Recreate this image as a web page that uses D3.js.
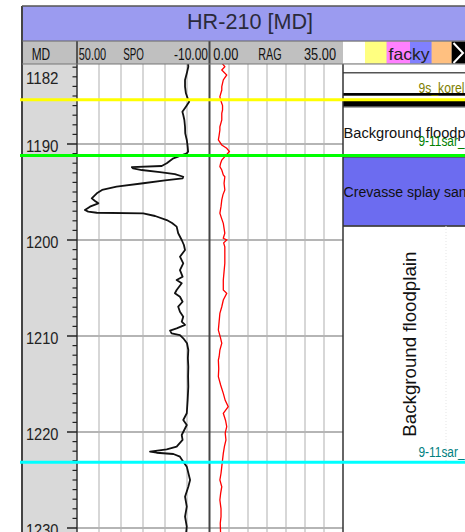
<!DOCTYPE html>
<html>
<head>
<meta charset="utf-8">
<script src="https://cdn.jsdelivr.net/npm/d3@7"></script>
<style>
  html, body { margin: 0; padding: 0; background: #fff; }
  svg { display: block; font-family: "Liberation Sans", Arial, sans-serif; }
</style>
</head>
<body>
<svg id="chart" width="465" height="532"></svg>
<script>
// ---- well log data (depth in m MD) ----
const wellName = "HR-210 [MD]";

const spoDepth = [1181.6, 1181.95, 1182.64, 1183.33, 1184.03, 1184.72, 1185.24, 1185.59, 1186.11, 1186.64,
  1186.98, 1187.5, 1188.2, 1188.89, 1189.58, 1190.28, 1190.8, 1190.97, 1191.49, 1191.74,
  1192.01, 1192.29, 1192.40, 1192.55, 1192.71, 1192.92, 1193.13, 1193.41, 1193.57, 1193.80,
  1194.09, 1194.45, 1194.79, 1195.14, 1195.66, 1195.94, 1196.18, 1196.53, 1196.88, 1197.05,
  1197.16, 1197.22, 1197.5, 1197.92, 1198.23, 1198.61, 1199.3, 1200.0, 1200.52, 1201.04,
  1201.74, 1202.43, 1203.13, 1203.82, 1204.17, 1204.51, 1205.21, 1205.55, 1205.91, 1206.43,
  1206.95, 1207.47, 1207.99, 1208.51, 1208.85, 1209.20, 1209.43, 1209.72, 1209.9, 1210.24,
  1210.76, 1211.46, 1212.3, 1213.2, 1214.2, 1215.28, 1216.67, 1218.05, 1218.75, 1219.27,
  1220.31, 1220.83, 1221.53, 1221.80, 1222.05, 1222.16, 1222.29, 1222.57, 1223.09, 1223.61,
  1225.0, 1225.7, 1226.74, 1227.78, 1228.82, 1229.86, 1230.73];
const spoValue = [-0.5, -0.6, 0.1, 0.9, 0.9, 0.5, -0.3, -1.0, 0.5, 2.1,
  1.7, 1.2, 0.9, 0.8, 0.1, -0.3, -0.5, 0.1, 6.2, 7.7,
  9.2, 11.5, 25.1, 24.5, 20.6, 12.3, 5.5, 1.7, 2.0, 10.0,
  19.9, 32.0, 38.6, 41.0, 43.3, 41.8, 40.3, 44.1, 46.4, 44.9,
  41.0, 19.9, 14.5, 9.2, 6.8, 4.7, 4.0, 2.4, 1.4, 0.9,
  3.2, 1.7, 3.2, 2.0, 4.7, 2.4, 4.7, 5.5, 3.2, 2.0,
  4.0, 3.2, 1.7, 2.4, 0.9, 4.7, 7.7, 7.0, 3.2, 1.7,
  0.0, -0.6, -0.4, -0.6, -0.5, -0.6, -0.3, 0.1, 1.7, 0.1,
  2.4, 2.0, 4.7, 9.2, 16.8, 13.8, 6.2, 3.2, 1.7, 0.1,
  -1.4, -0.6, 0.9, 0.1, 0.9, 0.1, 0.5];

const ragDepth = [1181.6, 1181.95, 1182.29, 1182.81, 1183.33, 1184.03, 1184.38, 1185.07, 1185.42, 1186.0,
  1186.46, 1186.80, 1187.5, 1188.2, 1188.54, 1189.1, 1189.58, 1190.1, 1190.45, 1190.78,
  1191.32, 1191.67, 1192.0, 1192.36, 1192.71, 1193.23, 1193.41, 1194.1, 1194.79, 1195.3,
  1195.83, 1196.5, 1197.22, 1197.7, 1198.26, 1199.3, 1199.82, 1200.0, 1200.3, 1200.7,
  1201.74, 1202.43, 1203.3, 1204.17, 1205.21, 1205.55, 1206.25, 1206.95, 1207.64, 1208.5,
  1209.38, 1210.1, 1210.76, 1211.46, 1212.16, 1212.5, 1213.4, 1214.24, 1215.1, 1215.97,
  1216.7, 1217.36, 1218.05, 1218.8, 1219.45, 1220.1, 1220.83, 1221.5, 1222.22, 1223.61,
  1224.3, 1225, 1225.7, 1226.4, 1227.08, 1228.0, 1228.82, 1229.5, 1230.73];
const ragValue = [3.2, 3.9, 3.1, 4.4, 3.5, 3.1, 3.1, 2.6, 2.8, 3.3,
  3.3, 3.1, 3.1, 2.6, 2.6, 2.4, 2.2, 3.1, 4.4, 5.1,
  3.9, 3.1, 2.8, 2.6, 3.1, 3.5, 3.9, 3.7, 3.9, 3.4,
  3.1, 2.9, 2.6, 3.0, 3.5, 3.9, 3.5, 4.4, 3.6, 3.9,
  3.9, 3.9, 3.7, 3.5, 3.5, 4.4, 3.5, 3.1, 2.6, 2.4,
  2.2, 2.7, 3.1, 2.6, 2.4, 2.2, 2.3, 2.2, 2.8, 3.5,
  4.0, 4.8, 3.5, 4.1, 4.4, 4.0, 4.2, 3.8, 3.5, 3.1,
  2.9, 2.6, 3.1, 2.8, 2.6, 2.9, 2.9, 2.7, 2.8];

// depth labels and grid
const depthLabels = [1182, 1190, 1200, 1210, 1220, 1230];
const depthGrid = [1190, 1200, 1210, 1220, 1230];

// horizon tops
const horizonName = ["9s_korel", "9-11sar", "9-11sar"];
const horizonDepth = [1185.39, 1191.20, 1223.16];
const horizonColor = ["#ffff00", "#00ff00", "#00ffff"];
const horizonTextColor = ["#808000", "#008000", "#008080"];

// facies intervals
const faciesTop = [1182.58, 1184.69, 1185.49, 1186.11, 1191.35, 1198.54];
const faciesBase = [1184.69, 1184.97, 1186.11, 1191.35, 1198.54, 1223.16];
const faciesColor = ["#ffffff", "#000000", "#000000", "#ffffff", "#6c6cf0", "#ffffff"];
const faciesName = ["", "", "", "Background floodplain", "Crevasse splay sandstone", "Background floodplain"];
const faciesVertical = [false, false, false, false, false, true];

// facies legend
const legendColor = ["#ffffff", "#ffff80", "#ff80ff", "#8080ff", "#ffc080", "#000000"];
const legendLabel = "facky";

// ---- layout ----
const L = {
  frameX: 22, titleY: 6, headY: 41, trackY: 64, bottom: 532, right: 465,
  mdR: 77, spoL: 77, spoR: 209, ragL: 210, ragR: 343, facL: 343, facR: 480
};

const svg = d3.select("#chart");

const y = d3.scaleLinear().domain([1190, 1230]).range([144, 528]);
const xSpo = d3.scaleLinear().domain([50, -10]).range([L.spoL, L.spoR]);
const xRag = d3.scaleLinear().domain([0, 35]).range([L.ragL, L.ragR]);

const defs = svg.append("defs");
defs.append("clipPath").attr("id", "clipSpo").append("rect")
  .attr("x", L.spoL).attr("y", L.trackY).attr("width", L.spoR - L.spoL).attr("height", L.bottom - L.trackY);
defs.append("clipPath").attr("id", "clipRag").append("rect")
  .attr("x", L.ragL).attr("y", L.trackY).attr("width", L.ragR - L.ragL).attr("height", L.bottom - L.trackY);
defs.append("clipPath").attr("id", "clipFac").append("rect")
  .attr("x", L.facL).attr("y", L.trackY).attr("width", L.right - L.facL).attr("height", L.bottom - L.trackY);

// title band
svg.append("rect").attr("x", L.frameX).attr("y", L.titleY).attr("width", L.right - L.frameX)
  .attr("height", L.headY - L.titleY).attr("fill", "#9b9bf0");
svg.append("text").attr("x", 250).attr("y", 28.5).attr("text-anchor", "middle")
  .attr("font-size", 21.5).attr("fill", "#2a2a3a")
  .attr("textLength", 126).attr("lengthAdjust", "spacingAndGlyphs").text(wellName);

// header row
svg.append("rect").attr("x", L.frameX).attr("y", L.headY).attr("width", L.right - L.frameX)
  .attr("height", L.trackY - L.headY).attr("fill", "#c0c0c0");

const headerTexts = [
  { t: "MD", x: 31.7, w: 18.5 },
  { t: "50.00", x: 78.7, w: 27.5 },
  { t: "SPO", x: 123.3, w: 20.7 },
  { t: "-10.00", x: 174, w: 34 },
  { t: "0.00", x: 213.3, w: 25 },
  { t: "RAG", x: 258.3, w: 23.4 },
  { t: "35.00", x: 304, w: 32 }
];
svg.append("g").selectAll("text").data(headerTexts).join("text")
  .attr("x", d => d.x).attr("y", 59.5).attr("font-size", 16.5).attr("fill", "#111")
  .attr("textLength", d => d.w).attr("lengthAdjust", "spacingAndGlyphs")
  .text(d => d.t);

// facies legend swatches
const legendX = [343, 365, 386.7, 410, 431.7, 451.7, 480];
svg.append("g").selectAll("rect").data(legendColor).join("rect")
  .attr("x", (d, i) => legendX[i]).attr("y", L.headY + 0.5)
  .attr("width", (d, i) => legendX[i + 1] - legendX[i]).attr("height", L.trackY - L.headY - 1)
  .attr("fill", d => d);
svg.append("path").attr("d", "M453.5,43 L463,53 L453.5,63").attr("fill", "none")
  .attr("stroke", "#fff").attr("stroke-width", 2);
svg.append("text").attr("x", 388.5).attr("y", 59.5).attr("font-size", 16.5).attr("fill", "#222")
  .attr("textLength", 41).attr("lengthAdjust", "spacingAndGlyphs").text(legendLabel);

// tracks
svg.append("rect").attr("x", L.frameX).attr("y", L.trackY).attr("width", L.mdR - L.frameX)
  .attr("height", L.bottom - L.trackY).attr("fill", "#d9d9d9");
svg.append("rect").attr("x", L.spoL).attr("y", L.trackY).attr("width", L.right - L.spoL)
  .attr("height", L.bottom - L.trackY).attr("fill", "#fff");

// vertical grid
const gridG = svg.append("g");
gridG.selectAll("line.vs").data(d3.range(40, -10, -10)).join("line").attr("class", "vs")
  .attr("x1", d => xSpo(d)).attr("x2", d => xSpo(d)).attr("y1", L.trackY).attr("y2", L.bottom)
  .attr("stroke", "#cacaca").attr("stroke-width", 1.5);
gridG.selectAll("line.vr").data(d3.range(5, 35, 5)).join("line").attr("class", "vr")
  .attr("x1", d => xRag(d)).attr("x2", d => xRag(d)).attr("y1", L.trackY).attr("y2", L.bottom)
  .attr("stroke", "#cacaca").attr("stroke-width", 1.5);
// horizontal grid
gridG.selectAll("line.h").data(depthGrid).join("line").attr("class", "h")
  .attr("x1", L.mdR).attr("x2", L.ragR).attr("y1", d => y(d)).attr("y2", d => y(d))
  .attr("stroke", "#b5b5b5").attr("stroke-width", 2);

// facies track
const fac = svg.append("g").attr("clip-path", "url(#clipFac)");
const facIdx = d3.range(faciesTop.length);
fac.selectAll("rect").data(facIdx).join("rect")
  .attr("x", L.facL).attr("width", L.facR - L.facL)
  .attr("y", i => y(faciesTop[i])).attr("height", i => y(faciesBase[i]) - y(faciesTop[i]))
  .attr("fill", i => faciesColor[i]);
fac.selectAll("line.top").data(facIdx.filter(i => faciesColor[i] !== "#000000")).join("line")
  .attr("class", "top")
  .attr("x1", L.facL).attr("x2", L.facR)
  .attr("y1", i => y(faciesTop[i])).attr("y2", i => y(faciesTop[i]))
  .attr("stroke", "#555").attr("stroke-width", 1.5);
fac.append("line").attr("x1", L.facL).attr("x2", L.facR)
  .attr("y1", y(faciesBase[4])).attr("y2", y(faciesBase[4]))
  .attr("stroke", "#333").attr("stroke-width", 1.2);
fac.append("line").attr("x1", 446).attr("x2", 446).attr("y1", y(faciesTop[5])).attr("y2", y(faciesBase[5]))
  .attr("stroke", "#e4e4e4").attr("stroke-width", 1).attr("stroke-dasharray", "1,2");
fac.selectAll("text.fh").data(facIdx.filter(i => faciesName[i] && !faciesVertical[i])).join("text")
  .attr("class", "fh")
  .attr("x", L.facL + 0.5)
  .attr("y", i => (y(faciesTop[i]) + y(faciesBase[i])) / 2 + 6)
  .attr("font-size", 15.5).attr("fill", "#111")
  .attr("textLength", i => faciesName[i].length * 6.9).attr("lengthAdjust", "spacingAndGlyphs")
  .text(i => faciesName[i]);
fac.selectAll("text.fv").data(facIdx.filter(i => faciesName[i] && faciesVertical[i])).join("text")
  .attr("class", "fv")
  .attr("transform", i => `translate(416,${(y(faciesTop[i]) + y(faciesBase[i])) / 2}) rotate(-90)`)
  .attr("text-anchor", "middle")
  .attr("font-size", 17.5).attr("fill", "#111")
  .attr("textLength", 185).attr("lengthAdjust", "spacingAndGlyphs")
  .text(i => faciesName[i]);

// curves
const lineSpo = d3.line().x(d => xSpo(d[1])).y(d => y(d[0]));
const lineRag = d3.line().x(d => xRag(d[1])).y(d => y(d[0]));
svg.append("path").attr("clip-path", "url(#clipSpo)")
  .attr("d", lineSpo(d3.zip(spoDepth, spoValue)))
  .attr("fill", "none").attr("stroke", "#111").attr("stroke-width", 1.8).attr("stroke-linejoin", "round");
svg.append("path").attr("clip-path", "url(#clipRag)")
  .attr("d", lineRag(d3.zip(ragDepth, ragValue)))
  .attr("fill", "none").attr("stroke", "#ff0000").attr("stroke-width", 1.3);

// track borders
const borders = [
  { x: L.frameX, y1: L.titleY, w: 2, c: "#444" },
  { x: L.mdR, y1: L.headY, w: 1.5, c: "#333" },
  { x: 209.5, y1: L.headY, w: 2, c: "#444" },
  { x: L.facL, y1: L.trackY, w: 1.5, c: "#333" }
];
svg.append("g").selectAll("line").data(borders).join("line")
  .attr("x1", d => d.x).attr("x2", d => d.x).attr("y1", d => d.y1).attr("y2", L.bottom)
  .attr("stroke", d => d.c).attr("stroke-width", d => d.w);
svg.append("line").attr("x1", L.frameX).attr("x2", L.right).attr("y1", L.titleY).attr("y2", L.titleY)
  .attr("stroke", "#555").attr("stroke-width", 1.5);
svg.append("line").attr("x1", L.frameX).attr("x2", L.right).attr("y1", L.headY).attr("y2", L.headY)
  .attr("stroke", "#666").attr("stroke-width", 1);
svg.append("line").attr("x1", L.frameX).attr("x2", L.right).attr("y1", L.trackY).attr("y2", L.trackY)
  .attr("stroke", "#777").attr("stroke-width", 1);

// depth ticks and labels
const tickG = svg.append("g");
const minorTicks = d3.range(1182, 1231).filter(d => d % 10 !== 0);
tickG.selectAll("line.mi").data(minorTicks).join("line").attr("class", "mi")
  .attr("x1", L.mdR - 4.5).attr("x2", L.mdR).attr("y1", d => y(d)).attr("y2", d => y(d))
  .attr("stroke", "#222").attr("stroke-width", 1.2);
tickG.selectAll("line.ma").data(depthGrid).join("line").attr("class", "ma")
  .attr("x1", L.mdR - 10).attr("x2", L.mdR).attr("y1", d => y(d)).attr("y2", d => y(d))
  .attr("stroke", "#222").attr("stroke-width", 1.5);
tickG.selectAll("text").data(depthLabels).join("text")
  .attr("x", 58.5).attr("text-anchor", "end")
  .attr("y", d => Math.max(y(d) + 8, 83.5))
  .attr("font-size", 17).attr("fill", "#222")
  .attr("textLength", 32.5).attr("lengthAdjust", "spacingAndGlyphs")
  .text(d => d);

// horizon tops
const hIdx = d3.range(horizonDepth.length);
svg.append("g").selectAll("line").data(hIdx).join("line")
  .attr("x1", 20).attr("x2", L.right)
  .attr("y1", i => y(horizonDepth[i])).attr("y2", i => y(horizonDepth[i]))
  .attr("stroke", i => horizonColor[i]).attr("stroke-width", 3);
const hOffset = [6.5, 10, 5.8];
svg.append("g").attr("clip-path", "url(#clipFac)").selectAll("text").data(hIdx).join("text")
  .attr("x", 418.5).attr("y", i => y(horizonDepth[i]) - hOffset[i])
  .attr("font-size", 14).attr("fill", i => horizonTextColor[i])
  .attr("textLength", 46).attr("lengthAdjust", "spacingAndGlyphs")
  .text(i => horizonName[i] + (i === 0 ? "" : "_"));
</script>
</body>
</html>
